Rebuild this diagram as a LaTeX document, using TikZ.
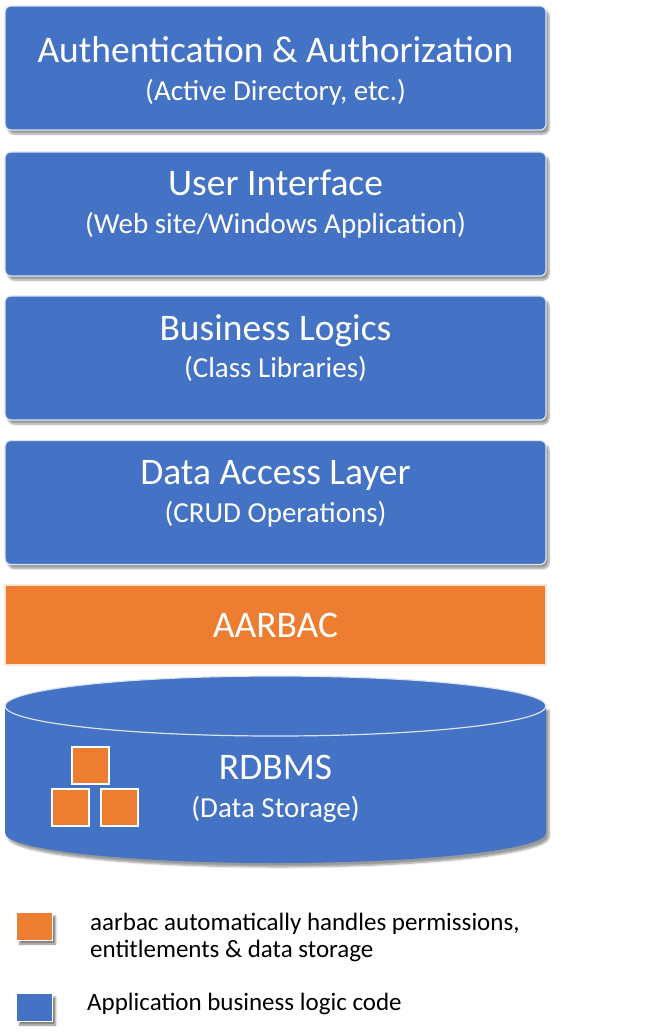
\documentclass[tikz,border=0pt]{standalone}
\usepackage{fontspec}
\setmainfont{Carlito}
\usetikzlibrary{positioning,shadows.blur}
\definecolor{layerblue}{HTML}{4472C4}
\definecolor{aarbacorange}{HTML}{ED7D31}

\begin{document}
\begin{tikzpicture}[x=1pt, y=-1pt, inner sep=0pt]
\tikzstyle{layer}=[rectangle, rounded corners=6pt, fill=layerblue, draw=layerblue!20!white, line width=1.2pt, minimum width=541pt, minimum height=124pt, blur shadow={shadow xshift=3pt, shadow yshift=-4pt, shadow blur steps=6, shadow opacity=40}]
\tikzstyle{big}=[font=\fontsize{37.5}{42}\selectfont, text=white, anchor=base]
\tikzstyle{small}=[font=\fontsize{29}{33}\selectfont, text=white, anchor=base]
\tikzstyle{cube}=[rectangle, fill=aarbacorange, draw=white, line width=2pt, minimum size=37pt]
\tikzstyle{key}=[rectangle, draw=white, line width=1pt, minimum width=36pt, minimum height=28pt, blur shadow={shadow xshift=3pt, shadow yshift=-4pt, shadow blur steps=4, shadow opacity=50}]
\tikzstyle{legend}=[font=\fontsize{25}{26.5}\selectfont, text=black, align=left, anchor=base west]
\useasboundingbox (0,0) rectangle (651,1036);

\node[layer] (auth)  at (275.5,68)  {};
\node[layer] (ui)    at (275.5,214) {};
\node[layer] (logic) at (275.5,358) {};
\node[layer] (dal)   at (275.5,502.5) {};
\node[rectangle, fill=aarbacorange, draw=aarbacorange!20!white, line width=2.5pt, minimum width=541pt, minimum height=80pt] (aarbac) at (275.5,625) {};

\node[big]   (authT)  at (275.5,62)  {Authentication \& Authorization};
\node[small] (authS)  at (275.5,100) {(Active Directory, etc.)};
\node[big]   (uiT)    at (275.5,195) {User Interface};
\node[small] (uiS)    at (275.5,233) {(Web site/Windows Application)};
\node[big]   (logicT) at (275.5,340) {Business Logics};
\node[small] (logicS) at (275.5,377) {(Class Libraries)};
\node[big]   (dalT)   at (275.5,484) {Data Access Layer};
\node[small] (dalS)   at (275.5,522) {(CRUD Operations)};
\node[big]   (aarbacT) at (275.5,637) {AARBAC};

\fill[layerblue, blur shadow={shadow xshift=3pt, shadow yshift=-4pt, shadow blur steps=6, shadow opacity=40}]
  (5,706) -- (5,833) arc[start angle=180, end angle=0, x radius=270.5, y radius=30] -- (546,706) -- cycle;
\draw[fill=layerblue, draw=layerblue!20!white, line width=1.2pt] (275.5,706) ellipse[x radius=270.5, y radius=30];
\node[big]   (dbT) at (275.5,779) {RDBMS};
\node[small] (dbS) at (275.5,817) {(Data Storage)};
\node[cube] (cubeA) at (90.5,765) {};
\node[cube] (cubeB) at (70,807.5) {};
\node[cube] (cubeC) at (119,807.5) {};

\node[key, fill=aarbacorange] (keyA) at (34.5,926) {};
\node[key, fill=layerblue] (keyB) at (34.5,1007) {};
\node[legend] (keyAT) at (90,957) {aarbac automatically handles permissions,\\entitlements \& data storage};
\node[legend] (keyBT) at (87,1010) {Application business logic code};
\end{tikzpicture}
\end{document}
